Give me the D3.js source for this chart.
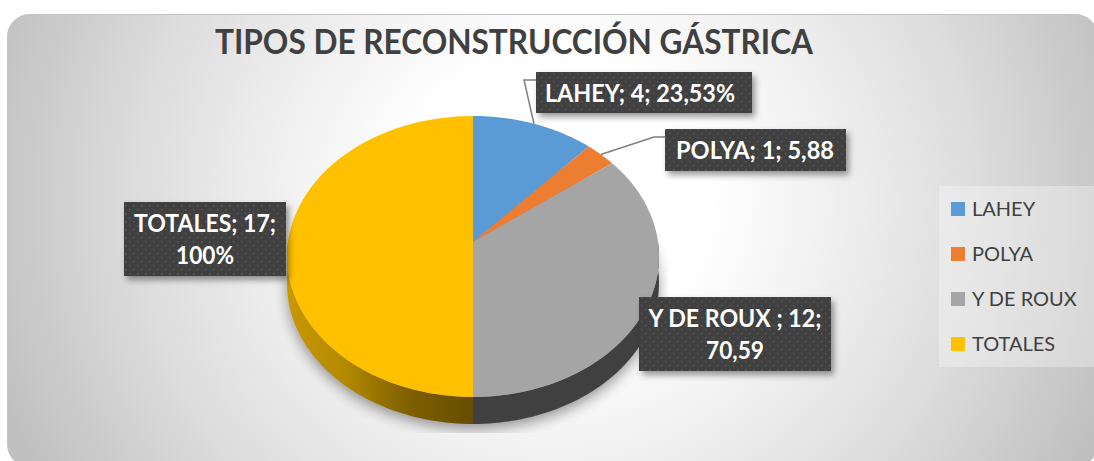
<!DOCTYPE html>
<html><head><meta charset="utf-8">
<script src="https://cdn.jsdelivr.net/npm/d3@7"></script>
<style>html,body{margin:0;padding:0;background:#fff;overflow:hidden}svg{display:block}text{font-family:Lato,"Open Sans",sans-serif}</style>
</head><body><svg id="c" width="1094" height="461"></svg>
<script>
const categories=["LAHEY","POLYA","Y DE ROUX","TOTALES"];
const values=[4,1,12,17];
const colors=["#5B9BD5","#ED7D31","#A5A5A5","#FFC000"];
const dataLabels=[["LAHEY; 4; 23,53%"],["POLYA; 1; 5,88"],["Y DE ROUX ; 12;","70,59"],["TOTALES; 17;","100%"]];
const titleText="TIPOS DE RECONSTRUCCIÓN GÁSTRICA";

const svg=d3.select("#c"),defs=svg.append("defs");
const bg=defs.append("radialGradient").attr("id","bg").attr("gradientUnits","userSpaceOnUse")
 .attr("cx",0).attr("cy",0).attr("r",1).attr("gradientTransform","translate(555 200) scale(590 560)");
[[0,"#fff"],[.26,"#fff"],[.47,"#f0f0f0"],[.72,"#dcdcdc"],[.92,"#c8c8c8"],[1,"#c0c0c0"]].forEach(s=>bg.append("stop").attr("offset",s[0]).attr("stop-color",s[1]));
const f=defs.append("filter").attr("id","blur").attr("x","-20%").attr("y","-20%").attr("width","140%").attr("height","140%");
f.append("feGaussianBlur").attr("stdDeviation",7);
const ds=defs.append("filter").attr("id","ds").attr("x","-10%").attr("y","-20%").attr("width","125%").attr("height","150%");
ds.append("feDropShadow").attr("dx",3).attr("dy",4).attr("stdDeviation",3).attr("flood-color","#000").attr("flood-opacity",.4);
const pat=defs.append("pattern").attr("id","dots").attr("width",8).attr("height",8).attr("patternUnits","userSpaceOnUse");
pat.append("rect").attr("width",8).attr("height",8).attr("fill","#3f3f3f");
[[1,1],[5,5]].forEach(p=>pat.append("rect").attr("x",p[0]).attr("y",p[1]).attr("width",1.4).attr("height",1.4).attr("fill","#5c5c5c"));
const wy=defs.append("linearGradient").attr("id","wy").attr("gradientUnits","userSpaceOnUse").attr("x1",288).attr("x2",473).attr("y1",0).attr("y2",0);
[[0,"#c89800"],[.3,"#b48a00"],[.65,"#7f6000"],[1,"#664c00"]].forEach(s=>wy.append("stop").attr("offset",s[0]).attr("stop-color",s[1]));

svg.append("rect").attr("x",7.5).attr("y",14.5).attr("width",1090).attr("height",452).attr("rx",22).attr("fill","url(#bg)").attr("stroke","#c4c4c4");

svg.append("text").attr("x",514).attr("y",54).attr("text-anchor","middle").attr("font-size",33.5).attr("font-weight",700).attr("fill","#404040")
 .attr("textLength",598).attr("lengthAdjust","spacingAndGlyphs").text(titleText);

// perspective projection of the pie disc
const cx=473,cy=242,A=185,B=139,K=.103,depth=27;
const proj=(a,d=0)=>{const u=Math.sin(a),v=Math.cos(a),w=1+K*v;return [cx+A*u/w,cy-B*v/w+d];};
const pie=d3.pie().sort(null)(values);
const line=d3.line();
const arcPts=(a0,a1,d=0)=>d3.range(0,61).map(i=>proj(a0+(a1-a0)*i/60,d));

// soft shadow
svg.append("clipPath").attr("id","sc").append("rect").attr("x",276).attr("y",100).attr("width",392).attr("height",333);
svg.append("g").attr("clip-path","url(#sc)").append("path").attr("d",line(arcPts(0,2*Math.PI,depth+5))+"Z").attr("fill","#000").attr("opacity",.4).attr("filter","url(#blur)");

// side wall
const wall=(a0,a1,fill)=>{const top=arcPts(a0,a1,0),bot=arcPts(a0,a1,depth).reverse();
 svg.append("path").attr("d",line(top.concat(bot))+"Z").attr("fill",fill);};
wall(Math.PI/2,Math.PI,"#404040");
wall(Math.PI,Math.PI*1.5,"url(#wy)");

// top faces
svg.append("g").selectAll("path").data(pie).join("path")
 .attr("d",d=>line([[cx,cy]].concat(arcPts(d.startAngle,d.endAngle)))+"Z")
 .attr("fill",(d,i)=>colors[i]);

// leader lines
const mid=d=>(d.startAngle+d.endAngle)/2;
const leaders=[[[536,80],[524,80]],[[665,137],[654,137]]];
leaders.forEach((l,i)=>svg.append("path").attr("d",line(l.concat([proj(mid(pie[i]))]))).attr("fill","none").attr("stroke","#7f7f7f").attr("stroke-width",1.5));

// data labels
const boxes=[[536,72,216,41],[665,129,181,42],[639,297,192,74],[124,202,162,74]];
const textCentres=[640,755,735,205];
const widths=[[190],[158],[173,58],[142,58]];
const lg=svg.append("g").selectAll("g").data(dataLabels).join("g");
lg.append("rect").attr("x",(d,i)=>boxes[i][0]).attr("y",(d,i)=>boxes[i][1]).attr("width",(d,i)=>boxes[i][2]).attr("height",(d,i)=>boxes[i][3]).attr("fill","url(#dots)").attr("filter","url(#ds)");
lg.each(function(d,i){const b=boxes[i],g=d3.select(this);
 d.forEach((t,j)=>g.append("text").attr("x",textCentres[i]).attr("y",b[1]+30+j*32).attr("text-anchor","middle").attr("font-size",24).attr("font-weight",700).attr("fill","#fff")
  .attr("textLength",widths[i][j]).attr("lengthAdjust","spacingAndGlyphs").text(t));});

// legend
svg.append("rect").attr("x",939).attr("y",186).attr("width",155).attr("height",181).attr("fill","#fff").attr("opacity",.32);
const y=d3.scalePoint().domain(categories).range([209,344]);
const li=svg.append("g").selectAll("g").data(categories).join("g").attr("transform",d=>`translate(951,${y(d)})`);
li.append("rect").attr("y",-7).attr("width",14).attr("height",14).attr("fill",(d,i)=>colors[i]);
li.append("text").attr("x",21).attr("y",7).attr("font-size",20).attr("fill","#404040").text(d=>d);
</script></body></html>
